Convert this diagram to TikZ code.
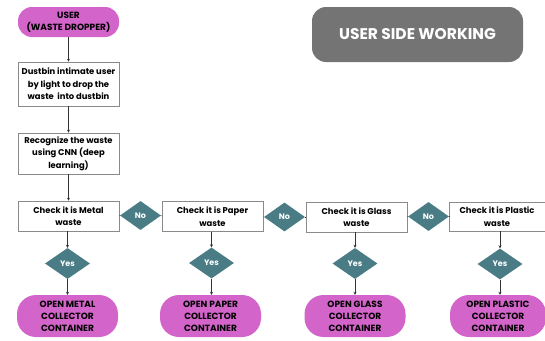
\documentclass[tikz,border=0pt]{standalone}
\usepackage{fontspec}
\setmainfont{Poppins}
\usetikzlibrary{shapes.geometric,arrows.meta}
\definecolor{pillc}{HTML}{D364C9}
\definecolor{tealc}{HTML}{4A7C86}
\definecolor{titlec}{HTML}{747474}
\definecolor{boxline}{HTML}{8A8A8A}
\definecolor{arrowc}{HTML}{333333}
\tikzset{
  pill/.style={draw=none, fill=pillc, rounded corners=19pt, minimum width=101pt, minimum height=42pt, align=center, font=\fontsize{9}{12}\selectfont\bfseries, text=black, inner sep=0pt},
  stepbox/.style={draw=boxline, line width=0.6pt, fill=white, minimum width=101pt, align=center, font=\fontsize{8.4}{12.5}\selectfont\bfseries, text=black, inner sep=0pt},
  dec/.style={diamond, fill=tealc, draw=none, inner sep=0pt, minimum width=45pt, minimum height=31pt, aspect=1.45, text=white, font=\fontsize{8}{8}\selectfont\bfseries},
  nodec/.style={dec, minimum width=41pt, minimum height=29pt},
  arr/.style={draw=arrowc, line width=0.7pt, -{Stealth[length=3pt,width=3pt]}},
  lin/.style={draw=arrowc, line width=0.7pt}
}
\begin{document}
\begin{tikzpicture}[x=1pt,y=-1pt]
\useasboundingbox (0,0) rectangle (545,340);
% title
\node[fill=titlec, rounded corners=14pt, minimum width=211pt, minimum height=55pt, text=white, font=\fontsize{15.5}{17}\selectfont\bfseries, inner sep=0pt] (title) at (417.5,34.5) {USER SIDE WORKING};
% left column
\node[pill, minimum height=30pt, rounded corners=14pt, font=\fontsize{9}{12.5}\selectfont\bfseries] (user) at (68.5,22) {USER\\(WASTE DROPPER)};
\node[stepbox, minimum height=44pt] (intimate) at (68.5,84) {Dustbin intimate user\\by light to drop the\\waste\ \ into dustbin};
\node[stepbox, minimum height=41pt] (recog) at (68.5,153.5) {Recognize the waste\\using CNN (deep\\learning)};
% check row
\node[stepbox, minimum height=30pt] (metal) at (68.5,216) {Check it is Metal\\waste};
\node[nodec] (no1) at (140.5,215.5) {No};
\node[stepbox, minimum height=30pt] (paper) at (212.5,216.5) {Check it is Paper\\waste};
\node[nodec] (no2) at (284.5,217) {No};
\node[stepbox, minimum height=30pt] (glass) at (356.5,217) {Check it is Glass\\waste};
\node[nodec] (no3) at (428.5,216.5) {No};
\node[stepbox, minimum height=29pt, minimum width=96pt] (plastic) at (497,216.5) {Check it is Plastic\\waste};
% yes diamonds
\node[dec] (y1) at (67.5,263.5) {Yes};
\node[dec] (y2) at (211.5,263) {Yes};
\node[dec] (y3) at (355,263.5) {Yes};
\node[dec] (y4) at (500,264) {Yes};
% pills
\node[pill] (o1) at (67.5,316) {OPEN METAL\\COLLECTOR\\CONTAINER};
\node[pill] (o2) at (210.5,316) {OPEN PAPER\\COLLECTOR\\CONTAINER};
\node[pill] (o3) at (355,316) {OPEN GLASS\\COLLECTOR\\CONTAINER};
\node[pill, minimum width=96pt] (o4) at (498,316) {OPEN PLASTIC\\COLLECTOR\\CONTAINER};
% connectors
\draw[arr] (user) -- (intimate);
\draw[arr] (intimate) -- (recog);
\draw[arr] (recog) -- (metal);
\draw[lin] (metal) -- (no1);
\draw[lin] (no1) -- (paper);
\draw[lin] (paper) -- (no2);
\draw[lin] (no2) -- (glass);
\draw[lin] (glass) -- (no3);
\draw[lin] (no3) -- (plastic);
\draw[arr] (metal.south -| y1) -- (y1);
\draw[arr] (y1) -- (o1);
\draw[arr] (paper.south -| y2) -- (y2);
\draw[arr] (y2) -- (o2.north -| y2);
\draw[arr] (glass.south -| y3) -- (y3);
\draw[arr] (y3) -- (o3);
\draw[arr] (plastic.south -| y4) -- (y4);
\draw[arr] (y4) -- (o4.north -| y4);
\end{tikzpicture}
\end{document}
